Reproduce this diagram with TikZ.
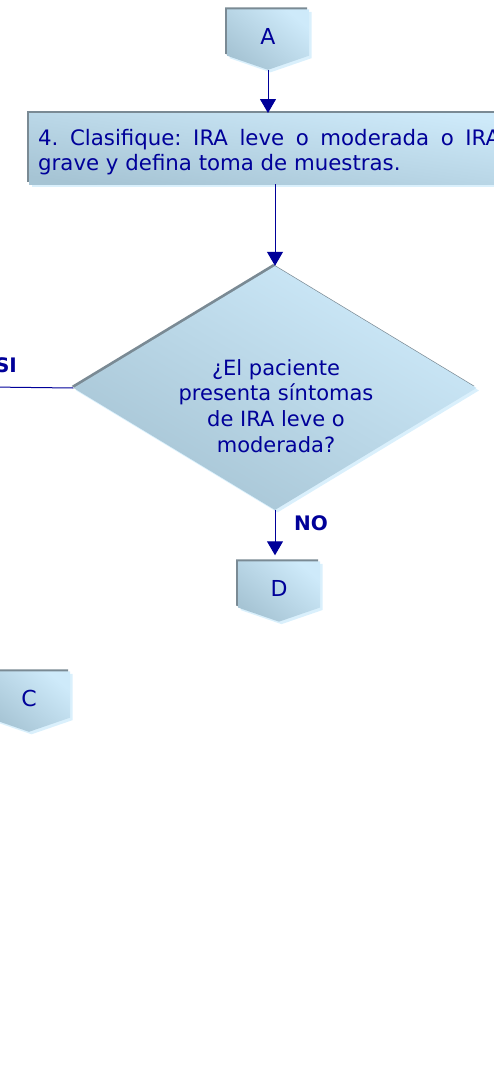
\documentclass[tikz,border=0pt]{standalone}
\usepackage{fontspec}
\setmainfont{DejaVu Sans}
\frenchspacing
\usetikzlibrary{shapes.geometric,shapes.symbols,shadows,arrows.meta,positioning}
\definecolor{navytext}{RGB}{0,0,153}
\definecolor{lightfill}{RGB}{206,234,250}
\definecolor{darkfill}{RGB}{166,196,212}
\definecolor{shadowgray}{RGB}{122,138,148}
\definecolor{glowblue}{RGB}{218,240,252}
\begin{document}
\begin{tikzpicture}[x=1pt,y=-1pt,
  filled/.style={top color=lightfill, bottom color=darkfill, shading angle=-40,
    general shadow={fill=glowblue, shadow xshift=2.5pt, shadow yshift=-2.5pt},
    general shadow={fill=shadowgray, shadow xshift=-2pt, shadow yshift=2pt}},
  offpage/.style={filled, signal, signal to=south, signal from=nothing,
    signal pointer angle=142, minimum width=82pt, minimum height=49pt,
    inner sep=0pt, text height=23pt, text depth=0pt, text=navytext, font=\fontsize{22}{26}\selectfont},
  procbox/.style={filled, shading angle=-8, rectangle, anchor=north west, minimum width=480pt,
    minimum height=71pt, text width=462pt, inner xsep=8pt, align=justify,
    text=navytext, font=\fontsize{21.3}{25}\selectfont},
  decision/.style={filled, shading angle=-30, diamond, minimum width=403pt, minimum height=244pt, inner sep=0pt},
  qtext/.style={align=center, text=navytext, font=\fontsize{21}{25.7}\selectfont},
  flow/.style={draw=navytext, line width=1pt, -{Triangle[width=16pt,length=14pt]}},
  answer/.style={text=navytext, font=\fontsize{20}{24}\selectfont\bfseries}]
\useasboundingbox (0,0) rectangle (493,1079);
\node[offpage] (A) at (268,32.5){A};
\node[procbox] (clasif) at (29,113){\rule{0pt}{23pt}4. Clasifique: IRA leve o moderada o IRA grave y defina toma de muestras.};
\node[decision] (q) at (275,388){};
\node[qtext] (qt) at (276,406){¿El paciente\\presenta síntomas\\de IRA leve o\\moderada?};
\node[offpage] (D) at (279,584.5){D};
\node[offpage] (C) at (29,694.5){C};
\node[answer] (si) at (6,365){SI};
\node[answer] (no) at (311,523){NO};
\coordinate (siend) at (-10,387);
\draw[flow](A.south) -- (A.south |- clasif.north);
\draw[flow](q.north |- clasif.south) -- (q.north);
\draw[draw=navytext, line width=1pt](q.west) -- (siend);
\draw[flow, shorten >=6pt](q.south) -- (q.south |- D.north);
\end{tikzpicture}
\end{document}
